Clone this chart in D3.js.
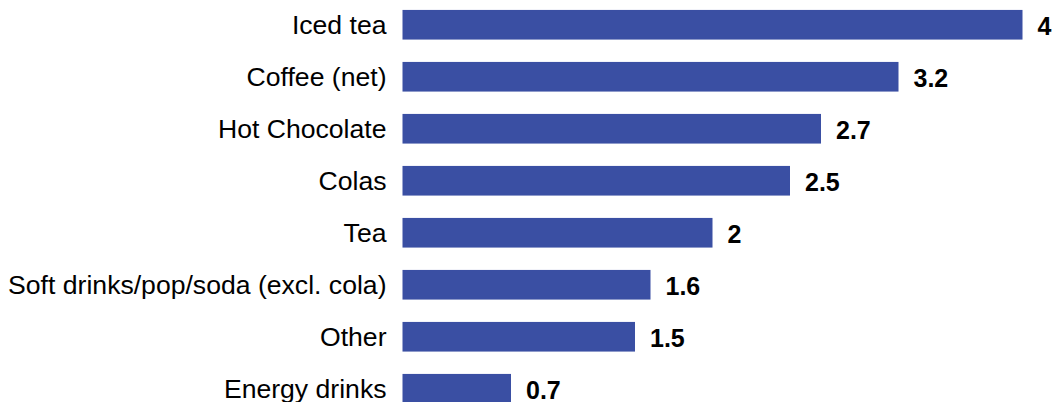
<!DOCTYPE html>
<html>
<head>
<meta charset="utf-8">
<script src="https://cdn.jsdelivr.net/npm/d3@7"></script>
<style>
  html, body { margin: 0; padding: 0; background: #ffffff; }
  svg { display: block; }
</style>
</head>
<body>
<div id="chart"></div>
<script>
// Beverage categories and their values
const categories = [
  "Iced tea",
  "Coffee (net)",
  "Hot Chocolate",
  "Colas",
  "Tea",
  "Soft drinks/pop/soda (excl. cola)",
  "Other",
  "Energy drinks"
];
const values = [4, 3.2, 2.7, 2.5, 2, 1.6, 1.5, 0.7];

const width = 1057, height = 402;
const barLeft = 402.5;
const barColor = "#3a4fa3";

const data = categories.map((c, i) => ({ category: c, value: values[i] }));

const svg = d3.select("#chart").append("svg")
  .attr("width", width)
  .attr("height", height);

const x = d3.scaleLinear()
  .domain([0, 4])
  .range([barLeft, barLeft + 620]);

const y = d3.scaleBand()
  .domain(categories)
  .range([-1.25, -1.25 + 8 * 52])
  .paddingInner(0.43)
  .paddingOuter(0.215);

// Bars
svg.append("g")
  .selectAll("rect")
  .data(data)
  .join("rect")
  .attr("x", x(0))
  .attr("y", d => y(d.category))
  .attr("width", d => x(d.value) - x(0))
  .attr("height", y.bandwidth())
  .attr("fill", barColor);

// Category labels on the left
svg.append("g")
  .selectAll("text")
  .data(data)
  .join("text")
  .attr("x", barLeft - 16)
  .attr("y", d => y(d.category) + y.bandwidth() / 2)
  .attr("dy", "0.33em")
  .attr("text-anchor", "end")
  .attr("font-family", "Liberation Sans, Arial, sans-serif")
  .attr("font-size", 26.6)
  .attr("fill", "#000")
  .text(d => d.category);

// Value labels at the end of each bar
svg.append("g")
  .selectAll("text")
  .data(data)
  .join("text")
  .attr("x", d => x(d.value) + 15)
  .attr("y", d => y(d.category) + y.bandwidth() / 2)
  .attr("dy", "0.39em")
  .attr("text-anchor", "start")
  .attr("font-family", "Liberation Sans, Arial, sans-serif")
  .attr("font-weight", "bold")
  .attr("font-size", 25)
  .attr("fill", "#000")
  .text(d => d3.format("~g")(d.value));
</script>
</body>
</html>
